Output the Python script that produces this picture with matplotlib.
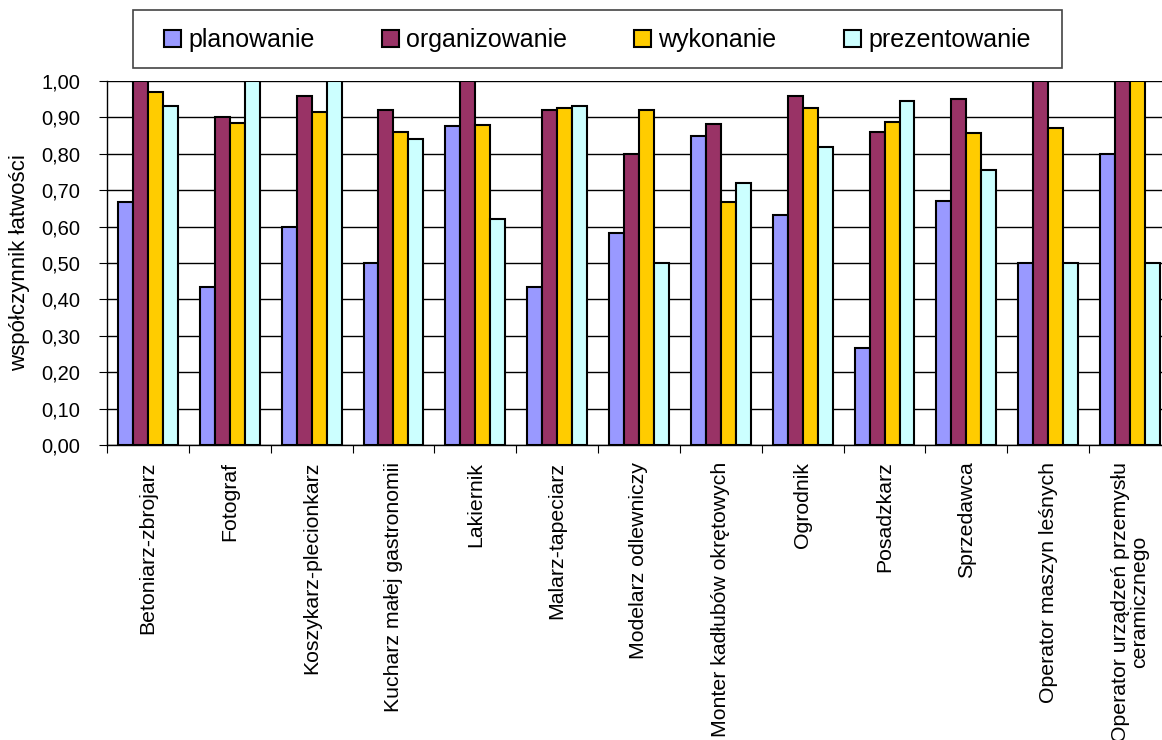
import numpy as np
import matplotlib
matplotlib.use("Agg")
from matplotlib import pyplot as plt
from matplotlib.patches import Rectangle
from matplotlib.ticker import FuncFormatter

plt.rcParams['font.family'] = ['Liberation Sans', 'DejaVu Sans']

zawody = ["Betoniarz-zbrojarz", "Fotograf", "Koszykarz-plecionkarz",
          "Kucharz małej gastronomii", "Lakiernik", "Malarz-tapeciarz",
          "Modelarz odlewniczy", "Monter kadłubów okrętowych", "Ogrodnik",
          "Posadzkarz", "Sprzedawca", "Operator maszyn leśnych",
          "Operator urządzeń przemysłu\nceramicznego"]

planowanie = [0.667, 0.433, 0.60, 0.50, 0.875, 0.433, 0.583, 0.85, 0.633, 0.267, 0.67, 0.50, 0.80]
organizowanie = [1.00, 0.90, 0.96, 0.92, 1.00, 0.92, 0.80, 0.883, 0.96, 0.86, 0.95, 1.00, 1.00]
wykonanie = [0.97, 0.885, 0.915, 0.86, 0.88, 0.925, 0.92, 0.667, 0.927, 0.888, 0.856, 0.87, 1.00]
prezentowanie = [0.93, 1.00, 1.00, 0.84, 0.62, 0.93, 0.50, 0.72, 0.82, 0.944, 0.755, 0.50, 0.50]

serie = [("planowanie", planowanie, "#9999FF"),
         ("organizowanie", organizowanie, "#993366"),
         ("wykonanie", wykonanie, "#FFCC00"),
         ("prezentowanie", prezentowanie, "#CCFFFF")]

W, H = 1162, 740
fig = plt.figure(figsize=(W / 100, H / 100), dpi=100)
# plot area runs a bit past the right edge of the picture, like the original
ax = fig.add_axes([107 / W, 1 - 445 / H, 1064 / W, 364 / H])
ax.set_clip_on(True)

x = np.arange(len(zawody))
w = 0.183
for i, (nazwa, vals, kolor) in enumerate(serie):
    ax.bar(x + (i - 1.5) * w, vals, w, color=kolor, edgecolor="black",
           linewidth=1.5, label=nazwa, zorder=3)

ax.set_xlim(-0.5, len(zawody) - 0.5)
ax.set_ylim(0, 1.0)
ax.set_yticks(np.arange(0, 1.01, 0.1))
ax.yaxis.set_major_formatter(FuncFormatter(lambda v, p: f"{v:.2f}".replace(".", ",")))
ax.yaxis.grid(True, color="black", linewidth=1, zorder=0)
ax.tick_params(axis="y", labelsize=14.5, length=6, direction="out", pad=13)

# x ticks between categories, labels centred under groups
ax.set_xticks(np.arange(-0.5, len(zawody), 1.0))
ax.set_xticklabels([])
ax.set_xticks(x, minor=True)
ax.set_xticklabels(zawody, minor=True, rotation=90, fontsize=15.3, va="top", ha="center",
                   linespacing=1.0)
ax.tick_params(axis="x", which="minor", length=0, pad=12)
ax.tick_params(axis="x", which="major", length=6)

for s in ["top", "right"]:
    ax.spines[s].set_visible(False)
ax.spines["left"].set_linewidth(1)
ax.spines["bottom"].set_linewidth(1)

ax.set_ylabel("współczynnik łatwości", fontsize=16, labelpad=8)

# legend box drawn separately so its size matches the original
fig.patches.append(Rectangle((133 / W, 1 - 68 / H), (1062 - 133) / W, 58 / H,
                             transform=fig.transFigure, fill=False,
                             edgecolor="#444444", linewidth=1.2))
leg = fig.legend(loc="center left", bbox_to_anchor=(164 / W, 1 - 40 / H), ncol=4,
                 fontsize=18, frameon=False,
                 handlelength=0.68, handleheight=0.68, handletextpad=0.28,
                 columnspacing=2.7, borderpad=0, borderaxespad=0)

fig.savefig("out.png", dpi=100)
